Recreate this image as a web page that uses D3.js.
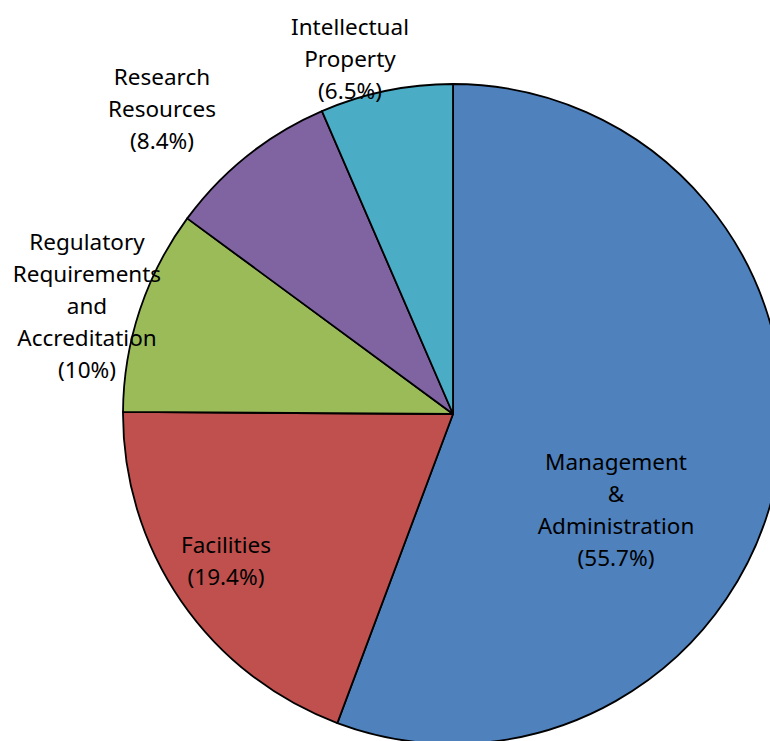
<!DOCTYPE html>
<html>
<head>
<meta charset="utf-8">
<script src="https://cdn.jsdelivr.net/npm/d3@7"></script>
<style>
  body { margin: 0; background: #fff; }
  svg { display: block; }
  text { font-family: "Noto Sans", "Open Sans", sans-serif; font-size: 22.5px; fill: #000; }
</style>
</head>
<body>
<div id="chart"></div>
<script>
const categories = ['Management & Administration', 'Facilities', 'Regulatory Requirements and Accreditation', 'Research Resources', 'Intellectual Property']
const values = [55.7, 19.4, 10, 8.4, 6.5]
const labelLines = [
  ['Management', '&', 'Administration', '(55.7%)'],
  ['Facilities', '(19.4%)'],
  ['Regulatory', 'Requirements', 'and', 'Accreditation', '(10%)'],
  ['Research', 'Resources', '(8.4%)'],
  ['Intellectual', 'Property', '(6.5%)']
]
const colors = ['#4F81BD', '#C0504D', '#9BBB59', '#8064A2', '#4BACC6']

const width = 770
const height = 741
const cx = 453
const cy = 414
const radius = 330
const lineHeight = 32

// label anchor (centre of text block) relative to pie centre
const labelAnchors = [
  [163, 96],
  [-227, 147],
  [-366, -108],
  [-291, -305],
  [-103, -355]
]

const svg = d3.select('#chart')
  .append('svg')
  .attr('width', width)
  .attr('height', height)

const pie = d3.pie().sort(null).value(d => d)
const arc = d3.arc().innerRadius(0).outerRadius(radius)
const color = d3.scaleOrdinal().domain(categories).range(colors)

const g = svg.append('g').attr('transform', `translate(${cx},${cy})`)

g.selectAll('path')
  .data(pie(values))
  .join('path')
  .attr('d', arc)
  .attr('fill', (d, i) => color(categories[i]))
  .attr('stroke', '#000')
  .attr('stroke-width', 1.8)
  .attr('stroke-linejoin', 'round')

// Labels
labelLines.forEach((lines, i) => {
  const [ax, ay] = labelAnchors[i]
  const top = ay - (lines.length - 1) * lineHeight / 2
  const t = g.append('text')
    .attr('text-anchor', 'middle')
  lines.forEach((line, j) => {
    t.append('tspan')
      .attr('x', ax)
      .attr('y', top + j * lineHeight)
      .attr('dy', '0.35em')
      .text(line)
  })
})
</script>
</body>
</html>
